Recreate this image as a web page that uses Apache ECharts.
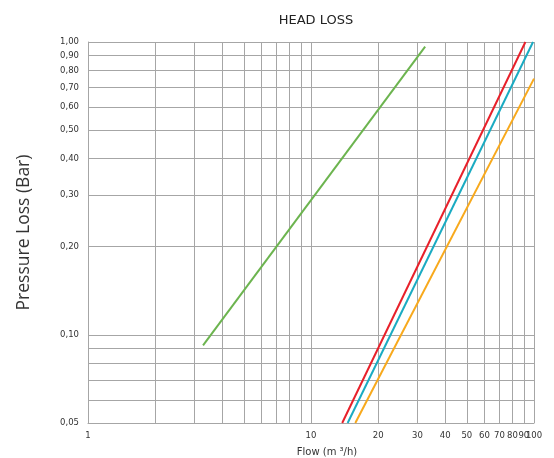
<!DOCTYPE html>
<html>
<head>
<meta charset="utf-8">
<script src="https://cdn.jsdelivr.net/npm/echarts@6/dist/echarts.min.js"></script>
<style>
html,body{margin:0;padding:0;background:#fff;}
#c{width:554px;height:458px;}
</style>
</head>
<body>
<div id="c"></div>
<script>
const flowTicks = [1,2,3,4,5,6,7,8,9,10,20,30,40,50,60,70,80,90,100];
const flowLabels = [1,10,20,30,40,50,60,70,80,90];
const flowEndLabel = [100];
const lossTicks = [0.05,0.06,0.07,0.08,0.09,0.1,0.2,0.3,0.4,0.5,0.6,0.7,0.8,0.9,1.0];
const lossLabels = [0.05,0.1,0.2,0.3,0.4,0.5,0.6,0.7,0.8,0.9,1.0];

const greenFlow = [3.28, 32.5];
const greenLoss = [0.092, 0.965];
const redFlow = [13.8, 91.5];
const redLoss = [0.05, 1.0];
const cyanFlow = [14.6, 99];
const cyanLoss = [0.05, 1.0];
const orangeFlow = [15.8, 100];
const orangeLoss = [0.05, 0.75];

function pairs(xs, ys){ return xs.map((x,i)=>[x, ys[i]]); }

const font = 'DejaVu Sans';
const gridColor = '#a6a6a6';
const labelStyle = {fontFamily: font, fontSize: 8.5, color: '#333'};

const chart = echarts.init(document.getElementById('c'));
chart.setOption({
  animation: false,
  title: {
    text: 'HEAD LOSS',
    left: 311, top: 9, textAlign: 'center',
    textStyle: {fontFamily: font, fontSize: 13, fontWeight: 'normal', color: '#222'}
  },
  grid: {left: 88, right: 20, top: 42, bottom: 35, containLabel: false, outerBoundsMode: 'none'},
  xAxis: [{
    type: 'log', logBase: 10, min: 1, max: 100, position: 'bottom',
    name: 'Flow (m \u00b3/h)', nameLocation: 'middle', nameGap: 24,
    nameTextStyle: {fontFamily: font, fontSize: 10, color: '#333', padding: [0, 0, 0, 32]},
    axisLine: {show: true, lineStyle: {color: gridColor}},
    axisTick: {show: false, customValues: flowTicks},
    axisLabel: Object.assign({customValues: flowLabels, margin: 8,
      showMaxLabel: true, showMinLabel: true, hideOverlap: false, interval: 0,
      formatter: v => String(Math.round(v))}, labelStyle),
    splitLine: {show: true, lineStyle: {color: gridColor, width: 1}},
    minorTick: {show: false}, minorSplitLine: {show: false}
  }, {
    type: 'log', logBase: 10, min: 1, max: 100, position: 'bottom', offset: 0,
    axisLine: {show: false},
    axisTick: {show: false, customValues: flowEndLabel},
    axisLabel: Object.assign({customValues: flowEndLabel, margin: 8,
      showMaxLabel: true, hideOverlap: false,
      formatter: v => String(Math.round(v))}, labelStyle),
    splitLine: {show: false},
    minorTick: {show: false}, minorSplitLine: {show: false}
  }],
  yAxis: {
    type: 'log', logBase: 10, min: 0.05, max: 1.0,
    name: 'Pressure Loss (Bar)', nameLocation: 'middle', nameGap: 55,
    nameTextStyle: {fontFamily: 'Open Sans', fontSize: 17.5, color: '#333'},
    axisLine: {show: true, lineStyle: {color: gridColor}},
    axisTick: {show: false, customValues: lossTicks},
    axisLabel: Object.assign({customValues: lossLabels, margin: 9,
      showMaxLabel: true, showMinLabel: true, hideOverlap: false, interval: 0,
      formatter: v => v.toFixed(2).replace('.', ',')}, labelStyle),
    splitLine: {show: true, lineStyle: {color: gridColor, width: 1}},
    minorTick: {show: false}, minorSplitLine: {show: false}
  },
  series: [
    {name: 'Green', type: 'line', data: pairs(greenFlow, greenLoss), showSymbol: false,
      lineStyle: {color: '#6cb44f', width: 2}, itemStyle: {color: '#6cb44f'}},
    {name: 'Red', type: 'line', data: pairs(redFlow, redLoss), showSymbol: false,
      lineStyle: {color: '#e8202a', width: 2}, itemStyle: {color: '#e8202a'}},
    {name: 'Cyan', type: 'line', data: pairs(cyanFlow, cyanLoss), showSymbol: false,
      lineStyle: {color: '#1aabc2', width: 2}, itemStyle: {color: '#1aabc2'}},
    {name: 'Orange', type: 'line', data: pairs(orangeFlow, orangeLoss), showSymbol: false,
      lineStyle: {color: '#f8a91c', width: 2}, itemStyle: {color: '#f8a91c'}}
  ]
});
</script>
</body>
</html>
